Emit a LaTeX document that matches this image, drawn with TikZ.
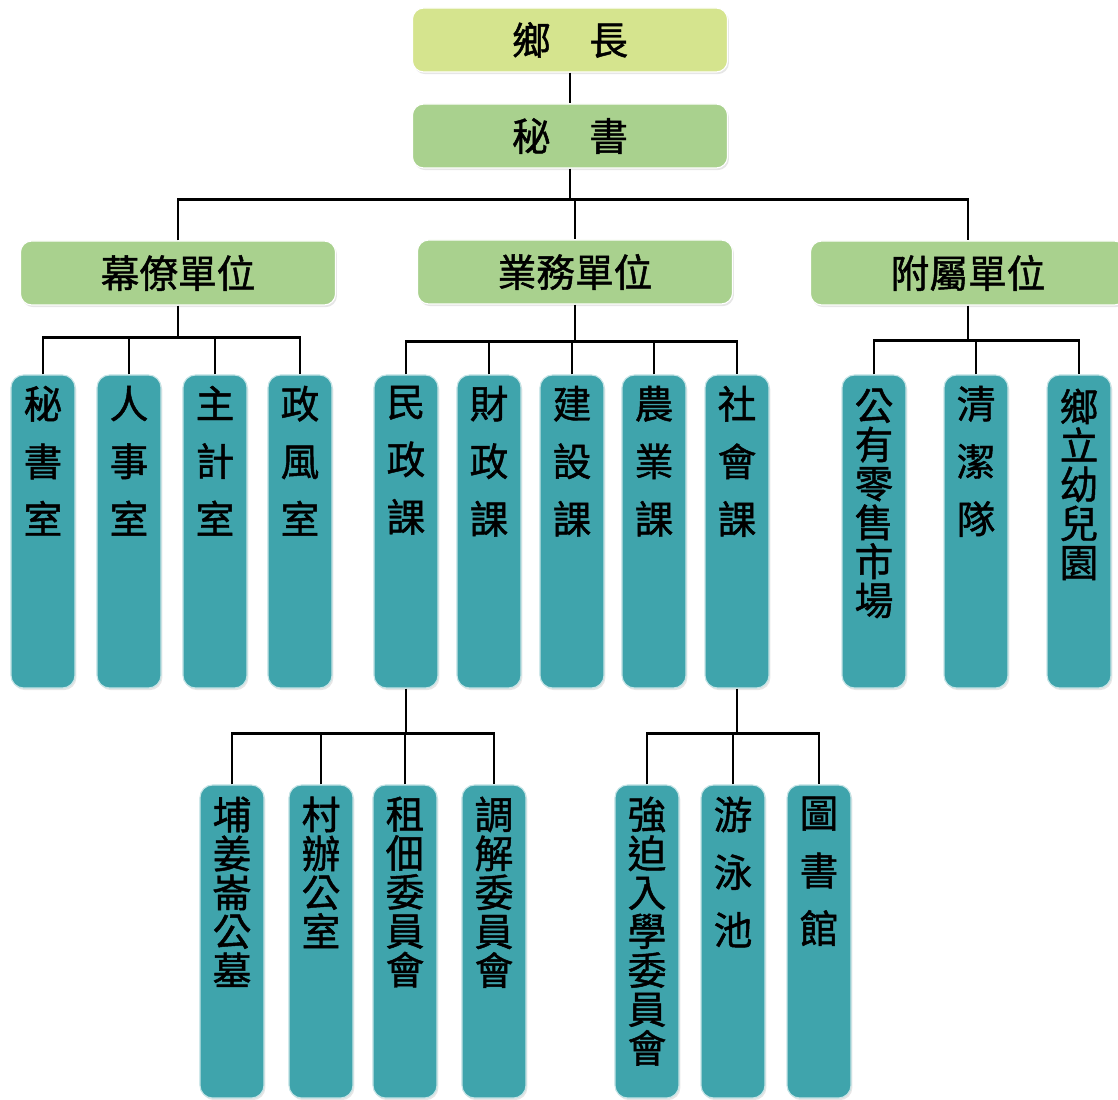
\documentclass[tikz,border=0pt]{standalone}
\usepackage{fontspec}
\newfontfamily\cjk[FakeBold=1.2]{Noto Sans CJK TC}
\usetikzlibrary{calc, positioning, shadows}
\definecolor{chiefgreen}{HTML}{D5E48E}
\definecolor{unitgreen}{HTML}{A9D18E}
\definecolor{sectteal}{HTML}{3FA4AC}

\begin{document}
\begin{tikzpicture}[x=0.025cm, y=-0.025cm,
        headbox/.style={draw=white, line width=0.8pt, rounded corners=8pt, minimum width=7.875cm, minimum height=1.6cm,
            inner sep=0pt, font=\cjk\fontsize{27.5}{33}\selectfont,
            drop shadow={shadow xshift=1pt, shadow yshift=-1.5pt, opacity=0.2}},
        colbox/.style={draw=sectteal!30!white, line width=0.8pt, fill=sectteal, rounded corners=9pt,
            minimum width=1.6cm, minimum height=7.825cm, inner sep=0pt,
            drop shadow={shadow xshift=1pt, shadow yshift=-1.5pt, opacity=0.2}},
        shorttext/.style={anchor=north, align=center, inner sep=0pt, font=\cjk\fontsize{27.5}{41}\selectfont},
        longtext/.style={anchor=north, align=center, inner sep=0pt, font=\cjk\fontsize{27.5}{27.7}\selectfont},
        link/.style={line width=2pt}]
        \useasboundingbox (0,0) rectangle (1118,1099);

        % top of the chart
        \node[headbox, fill=chiefgreen] (H1) at (570,40) {鄉\hspace{1em}長};
        \node[headbox, fill=unitgreen] (H2) at (570,136) {秘\hspace{1em}書};

        % three groups
        \node[headbox, fill=unitgreen] (G1) at (178,273) {幕僚單位};
        \node[headbox, fill=unitgreen] (G2) at (575,272) {業務單位};
        \node[headbox, fill=unitgreen] (G3) at (968,273) {附屬單位};

        % staff offices
        \node[colbox] (S1) at (43,531.5) {};
        \node[colbox] (S2) at (129,531.5) {};
        \node[colbox] (S3) at (215,531.5) {};
        \node[colbox] (S4) at (300,531.5) {};
        \node[shorttext, below=0.28cm of S1.north] (S1T) {秘\\書\\室};
        \node[shorttext, below=0.28cm of S2.north] (S2T) {人\\事\\室};
        \node[shorttext, below=0.28cm of S3.north] (S3T) {主\\計\\室};
        \node[shorttext, below=0.28cm of S4.north] (S4T) {政\\風\\室};

        % business sections
        \node[colbox] (B1) at (406,531.5) {};
        \node[colbox] (B2) at (489,531.5) {};
        \node[colbox] (B3) at (572,531.5) {};
        \node[colbox] (B4) at (654,531.5) {};
        \node[colbox] (B5) at (737,531.5) {};
        \node[shorttext, below=0.28cm of B1.north] (B1T) {民\\政\\課};
        \node[shorttext, below=0.28cm of B2.north] (B2T) {財\\政\\課};
        \node[shorttext, below=0.28cm of B3.north] (B3T) {建\\設\\課};
        \node[shorttext, below=0.28cm of B4.north] (B4T) {農\\業\\課};
        \node[shorttext, below=0.28cm of B5.north] (B5T) {社\\會\\課};

        % attached units
        \node[colbox] (A1) at (874,531.5) {};
        \node[colbox] (A2) at (976,531.5) {};
        \node[colbox] (A3) at (1079,531.5) {};
        \node[longtext, below=0.35cm of A1.north] (A1T) {公\\有\\零\\售\\市\\場};
        \node[shorttext, below=0.28cm of A2.north] (A2T) {清\\潔\\隊};
        \node[longtext, below=0.35cm of A3.north] (A3T) {鄉\\立\\幼\\兒\\園};

        % under civil affairs
        \node[colbox] (C1) at (232,941.5) {};
        \node[colbox] (C2) at (321,941.5) {};
        \node[colbox] (C3) at (405,941.5) {};
        \node[colbox] (C4) at (494,941.5) {};
        \node[longtext, below=0.3cm of C1.north] (C1T) {埔\\姜\\崙\\公\\墓};
        \node[longtext, below=0.3cm of C2.north] (C2T) {村\\辦\\公\\室};
        \node[longtext, below=0.3cm of C3.north] (C3T) {租\\佃\\委\\員\\會};
        \node[longtext, below=0.3cm of C4.north] (C4T) {調\\解\\委\\員\\會};

        % under social affairs
        \node[colbox] (D1) at (647,941.5) {};
        \node[colbox] (D2) at (733,941.5) {};
        \node[colbox] (D3) at (819,941.5) {};
        \node[longtext, below=0.3cm of D1.north] (D1T) {強\\迫\\入\\學\\委\\員\\會};
        \node[shorttext, below=0.3cm of D2.north] (D2T) {游\\泳\\池};
        \node[shorttext, below=0.3cm of D3.north] (D3T) {圖\\書\\館};

        % bus lines
        \coordinate (TB) at ($(H2.south)+(0,31)$);
        \coordinate (SB) at ($(G1.south)+(0,32)$);
        \coordinate (BB) at ($(G2.south)+(0,37)$);
        \coordinate (AB) at ($(G3.south)+(0,35)$);
        \coordinate (CB) at ($(B1.south)+(0,45)$);
        \coordinate (DB) at ($(B5.south)+(0,45)$);

        \draw [link] (H1.south) -- (H2.north);
        \draw [link] (H2.south) -- (TB);
        \draw [link] (G1.north) |- (TB) -| (G3.north);
        \draw [link] (TB -| G2.north) -- (G2.north);

        \draw [link] (G1.south) -- (SB);
        \draw [link] (S1.north) |- (SB) -| (S4.north);
        \draw [link] (S2.north) -- (S2.north |- SB);
        \draw [link] (S3.north) -- (S3.north |- SB);

        \draw [link] (G2.south) -- (BB);
        \draw [link] (B1.north) |- (BB) -| (B5.north);
        \draw [link] (B2.north) -- (B2.north |- BB);
        \draw [link] (B3.north) -- (B3.north |- BB);
        \draw [link] (B4.north) -- (B4.north |- BB);

        \draw [link] (G3.south) -- (AB);
        \draw [link] (A1.north) |- (AB) -| (A3.north);
        \draw [link] (A2.north) -- (A2.north |- AB);

        \draw [link] (B1.south) -- (CB);
        \draw [link] (C1.north) |- (CB) -| (C4.north);
        \draw [link] (C2.north) -- (C2.north |- CB);
        \draw [link] (C3.north) -- (C3.north |- CB);

        \draw [link] (B5.south) -- (DB);
        \draw [link] (D1.north) |- (DB) -| (D3.north);
        \draw [link] (D2.north) -- (D2.north |- DB);
    \end{tikzpicture}
\end{document}
